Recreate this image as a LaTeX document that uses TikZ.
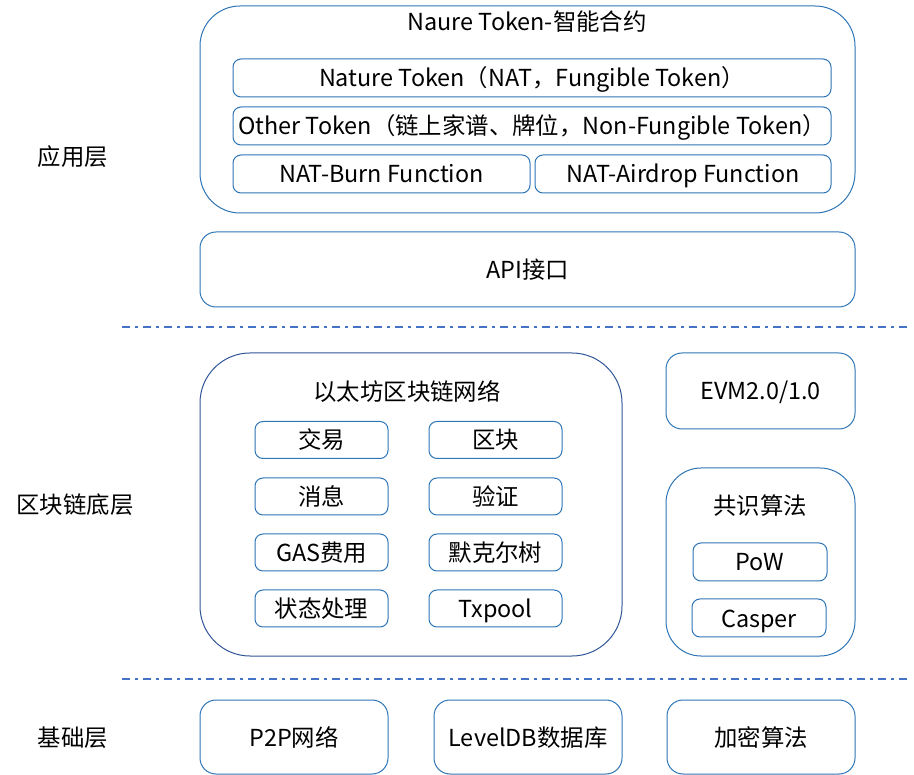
\documentclass[tikz,border=0pt]{standalone}
\usepackage{fontspec}
\setmainfont{Noto Sans CJK SC}
\definecolor{frameA}{RGB}{46,117,182}
\definecolor{frameB}{RGB}{47,85,151}
\definecolor{dashc}{RGB}{68,114,196}
\tikzset{
  txt/.style={inner sep=0pt, font=\fontsize{23.4}{27}\selectfont, text height=20pt, text depth=2pt},
  box/.style={txt, draw=frameA, line width=1pt, rounded corners=#1, align=center},
  box/.default=8pt,
  lbl/.style={txt},
  sep/.style={draw=dashc, line width=1.6pt, dash pattern=on 8pt off 5pt on 3pt off 5pt}
}
\begin{document}
\begin{tikzpicture}[x=1pt,y=-1pt]
\useasboundingbox (0,0) rectangle (914,775);
% application layer
\node[box=40pt, minimum width=655pt, minimum height=207pt] (app) at (527.5,109.5) {};
\node[lbl] (apptitle) at (527,22) {Naure Token-智能合约};
\node[box, minimum width=598pt, minimum height=38pt] (nat1) at (532,78) {Nature Token（NAT，Fungible Token）};
\node[box, minimum width=598pt, minimum height=38pt] (nat2) at (532,126) {Other Token（链上家谱、牌位，Non-Fungible Token）};
\node[box, minimum width=297pt, minimum height=38pt] (burn) at (381.5,174) {NAT-Burn Function};
\node[box, minimum width=296pt, minimum height=38pt] (air) at (683,174) {NAT-Airdrop Function};
\node[box=16pt, minimum width=655pt, minimum height=75pt] (api) at (527.5,269.5) {API接口};
% separators
\coordinate (s1a) at (122,327); \coordinate (s1b) at (910,327);
\coordinate (s2a) at (122,679); \coordinate (s2b) at (910,679);
\draw[sep] (s1a) -- (s1b);
\draw[sep] (s2a) -- (s2b);
% blockchain layer
\node[box=50pt, draw=frameB, minimum width=422pt, minimum height=303pt] (eth) at (411,504.5) {};
\node[lbl] (ethtitle) at (407,392) {以太坊区块链网络};
\node[box, minimum width=133pt, minimum height=37pt] (b1) at (321.5,440) {交易};
\node[box, minimum width=133pt, minimum height=37pt] (b2) at (495.5,440) {区块};
\node[box, minimum width=133pt, minimum height=37pt] (b3) at (321.5,496.5) {消息};
\node[box, minimum width=133pt, minimum height=37pt] (b4) at (495.5,496.5) {验证};
\node[box, minimum width=133pt, minimum height=37pt] (b5) at (321.5,552.5) {GAS费用};
\node[box, minimum width=133pt, minimum height=37pt] (b6) at (495.5,552.5) {默克尔树};
\node[box, minimum width=133pt, minimum height=37pt] (b7) at (321.5,608.5) {状态处理};
\node[box, minimum width=133pt, minimum height=37pt] (b8) at (495.5,608.5) {Txpool};
\node[box=16pt, minimum width=189pt, minimum height=76pt] (evm) at (760.5,391) {EVM2.0/1.0};
\node[box=35pt, minimum width=189pt, minimum height=188pt] (cons) at (760.5,562) {};
\node[lbl] (constitle) at (760,506) {共识算法};
\node[box, minimum width=134pt, minimum height=38pt] (pow) at (760,562) {PoW};
\node[box, minimum width=134pt, minimum height=38pt] (casper) at (759,618) {Casper};
% base layer
\node[box=16pt, minimum width=188pt, minimum height=74pt] (p2p) at (294,737) {P2P网络};
\node[box=16pt, minimum width=188pt, minimum height=74pt] (ldb) at (528,737) {LevelDB数据库};
\node[box=16pt, minimum width=188pt, minimum height=74pt] (crypto) at (761,737) {加密算法};
% layer labels
\node[lbl] (l1) at (73,157) {应用层};
\node[lbl] (l2) at (75,505) {区块链底层};
\node[lbl] (l3) at (73,737) {基础层};
\end{tikzpicture}
\end{document}
